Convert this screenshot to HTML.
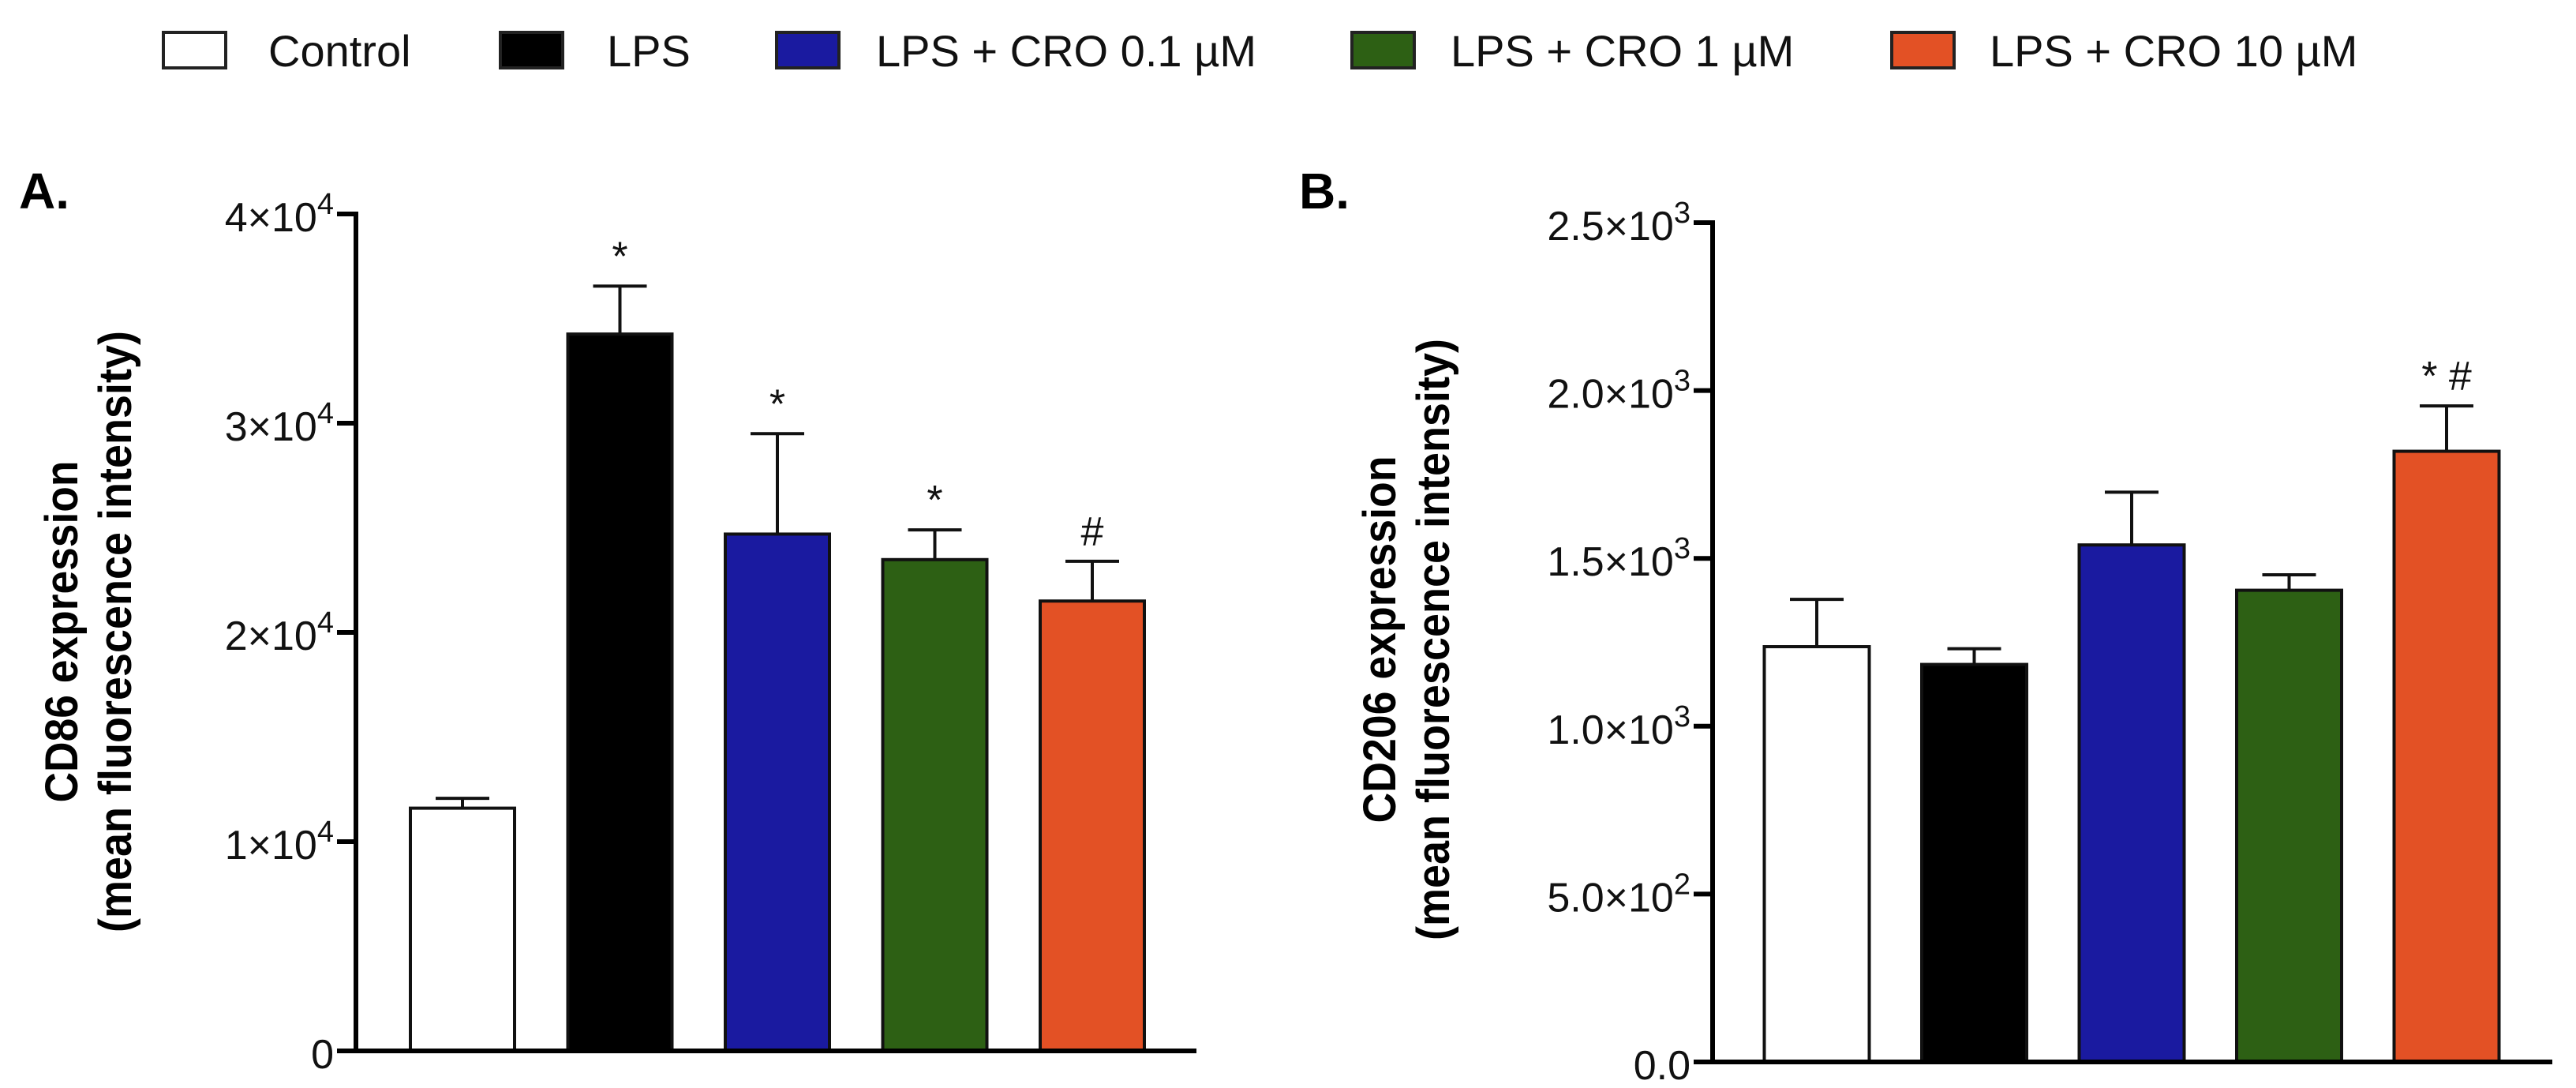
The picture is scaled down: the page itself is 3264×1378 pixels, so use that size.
<!DOCTYPE html>
<html><head><meta charset="utf-8"><style>
html,body{margin:0;padding:0;background:#fff;}
svg{display:block;font-family:"Liberation Sans",Arial,sans-serif;}
</style></head><body>
<svg id="chart" width="3264" height="1378" viewBox="0 0 3264 1378">
<g id="legend"></g>
<g id="panelA"></g>
<g id="panelB"></g>
</svg>
<script>
const categories = ["Control","LPS","LPS + CRO 0.1 µM","LPS + CRO 1 µM","LPS + CRO 10 µM"];
const colors = ["#ffffff","#000000","#1a1aa0","#2d6014","#e35125"];
const cd86Values = [11600, 34260, 24700, 23480, 21500];
const cd86Errors = [470, 2290, 4800, 1420, 1900];
const cd86Marks = ["", "*", "*", "*", "#"];
const cd86Ticks = [0, 10000, 20000, 30000, 40000];
const cd86TickLabels = ["0","1×10|4","2×10|4","3×10|4","4×10|4"];
const cd206Values = [1237, 1184, 1540, 1405, 1819];
const cd206Errors = [141, 47, 157, 46, 135];
const cd206Marks = ["", "", "", "", "* #"];
const cd206Ticks = [0, 500, 1000, 1500, 2000, 2500];
const cd206TickLabels = ["0.0","5.0×10|2","1.0×10|3","1.5×10|3","2.0×10|3","2.5×10|3"];

const NS="http://www.w3.org/2000/svg";
function mk(parent,tag,attrs,text){const e=document.createElementNS(NS,tag);for(const k in attrs)e.setAttribute(k,attrs[k]);if(text!==undefined)e.textContent=text;parent.appendChild(e);return e;}

// legend
const lg=document.getElementById('legend');
const legBoxX=[207,634,984,1713,2397], legTextX=[340,769,1110,1838,2521];
categories.forEach((c,i)=>{
  const r=mk(lg,'rect',{x:legBoxX[i],y:41,width:79,height:45,fill:colors[i],stroke:'#222','stroke-width':4});
  
  
  const t=mk(lg,'text',{x:legTextX[i],y:84,'font-size':56,fill:'#111'},c);
  
  
});

function panel(g,o){
  const y=v=>o.y0-(v-o.vmin)/(o.vmax-o.vmin)*(o.y0-o.yTop);
  const xc=i=>o.firstCenter+i*o.step;
  const L=mk(g,'text',{x:o.letterX,y:264,'font-size':64,'font-weight':'bold'},o.letter);
  
  
  const tt=mk(g,'text',{transform:`translate(${o.titleX},${o.titleY}) rotate(-90)`,'text-anchor':'middle','font-size':58,'font-weight':'bold'});
  
  
  mk(tt,'tspan',{x:0,y:0,textLength:o.t1len,lengthAdjust:'spacingAndGlyphs'},o.title1);
  mk(tt,'tspan',{x:0,y:68,textLength:762,lengthAdjust:'spacingAndGlyphs'},'(mean fluorescence intensity)');
  o.values.forEach((v,i)=>{
    const cx=xc(i), top=y(v), et=y(v+o.errors[i]);
    const el=mk(g,'line',{x1:cx,x2:cx,y1:top,y2:et,stroke:'#111','stroke-width':4});
    
    
    const cap=mk(g,'line',{x1:cx-34,x2:cx+34,y1:et,y2:et,stroke:'#111','stroke-width':4});
    
    
    const b=mk(g,'rect',{x:cx-o.bw/2,y:top,width:o.bw,height:o.y0-top,fill:colors[i],stroke:'#111','stroke-width':4});
    
    
    if(o.marks[i]){
      const m=mk(g,'text',{x:cx,y:et-20,'text-anchor':'middle','font-size':52,fill:'#111'},o.marks[i]);
      
      
    }
  });
  const ya=mk(g,'line',{x1:o.axX,x2:o.axX,y1:o.yTop-3,y2:o.y0+3,stroke:'#000','stroke-width':6});
  
  
  const xa=mk(g,'line',{x1:o.axX-24,x2:o.axRight,y1:o.y0,y2:o.y0,stroke:'#000','stroke-width':6});
  
  
  o.ticks.forEach((tv,i)=>{
    const ty=y(tv);
    const tk=mk(g,'line',{x1:o.axX-24,x2:o.axX,y1:ty,y2:ty,stroke:'#000','stroke-width':6});
    
    
    const parts=o.tickLabels[i].split('|');
    const t=mk(g,'text',{x:o.axX-28,y:ty+22,'text-anchor':'end','font-size':52,fill:'#111'});
    
    
    mk(t,'tspan',{},parts[0]);
    if(parts[1]) mk(t,'tspan',{dy:-22,'font-size':38},parts[1]);
  });
}
panel(document.getElementById('panelA'),{letter:'A.',letterX:24,title1:'CD86 expression',t1len:433,titleX:98,titleY:800,
  values:cd86Values,errors:cd86Errors,marks:cd86Marks,ticks:cd86Ticks,tickLabels:cd86TickLabels,
  vmin:0,vmax:40000,y0:1331,yTop:271,axX:451,axRight:1516,firstCenter:586,step:199.5,bw:132});
panel(document.getElementById('panelB'),{letter:'B.',letterX:1646,title1:'CD206 expression',t1len:465,titleX:1768,titleY:810,
  values:cd206Values,errors:cd206Errors,marks:cd206Marks,ticks:cd206Ticks,tickLabels:cd206TickLabels,
  vmin:0,vmax:2500,y0:1345,yTop:282,axX:2170,axRight:3234,firstCenter:2302,step:199.5,bw:133});
</script>
</body></html>
